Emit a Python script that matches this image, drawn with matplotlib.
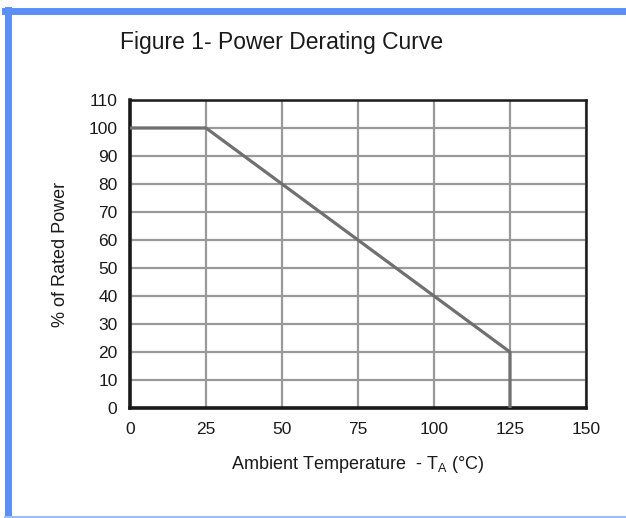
import matplotlib
matplotlib.use("Agg")
import matplotlib.pyplot as plt
from matplotlib.lines import Line2D

# derating curve: temperature (deg C) vs % rated power
temp_c = [0, 25, 125, 125]
power_pct = [100, 100, 20, 0]

x_ticks = [0, 25, 50, 75, 100, 125, 150]
y_ticks = [0, 10, 20, 30, 40, 50, 60, 70, 80, 90, 100, 110]

plt.rcParams['font.family'] = ['Liberation Sans', 'DejaVu Sans']

fig = plt.figure(figsize=(6.26, 5.18), dpi=100)
ax = fig.add_axes([130/626, 1-408/518, 456/626, 308/518])

ax.plot(temp_c, power_pct, color='#707070', linewidth=2.3, zorder=3)

ax.set_xlim(0, 150)
ax.set_ylim(0, 110)
ax.set_xticks(x_ticks)
ax.set_yticks(y_ticks)
ax.grid(True, color='#9a9a9a', linewidth=1.6)
ax.set_axisbelow(True)
ax.tick_params(length=0, labelsize=12.5, colors='#1a1a1a')
ax.tick_params(axis='x', pad=10)
ax.tick_params(axis='y', pad=9)
for side in ['left', 'bottom']:
    ax.spines[side].set_linewidth(2.6)
for side in ['top', 'right']:
    ax.spines[side].set_linewidth(1.8)
for sp in ax.spines.values():
    sp.set_color('#1a1a1a')

ax.set_xlabel('Ambient Temperature  - T$_\\mathregular{A}$ (°C)', fontsize=13,
              labelpad=12, color='#1a1a1a')
ax.set_ylabel('% of Rated Power', fontsize=13, labelpad=14, color='#1a1a1a')

fig.text(120/626, 1-43/518, 'Figure 1- Power Derating Curve', fontsize=16.5,
         ha='left', va='center', color='#1a1a1a')

# blue frame around the screenshot
fig.add_artist(Line2D([5/626, 1], [1-10.5/518, 1-10.5/518], transform=fig.transFigure,
                      color='#5b8ff5', linewidth=5))
fig.add_artist(Line2D([8/626, 8/626], [1-10/518, 1-517/518], transform=fig.transFigure,
                      color='#5b8ff5', linewidth=5))
fig.add_artist(Line2D([5/626, 1], [1-516.5/518, 1-516.5/518], transform=fig.transFigure,
                      color='#9dbcf8', linewidth=1.5))

fig.savefig('out.png', dpi=100)
